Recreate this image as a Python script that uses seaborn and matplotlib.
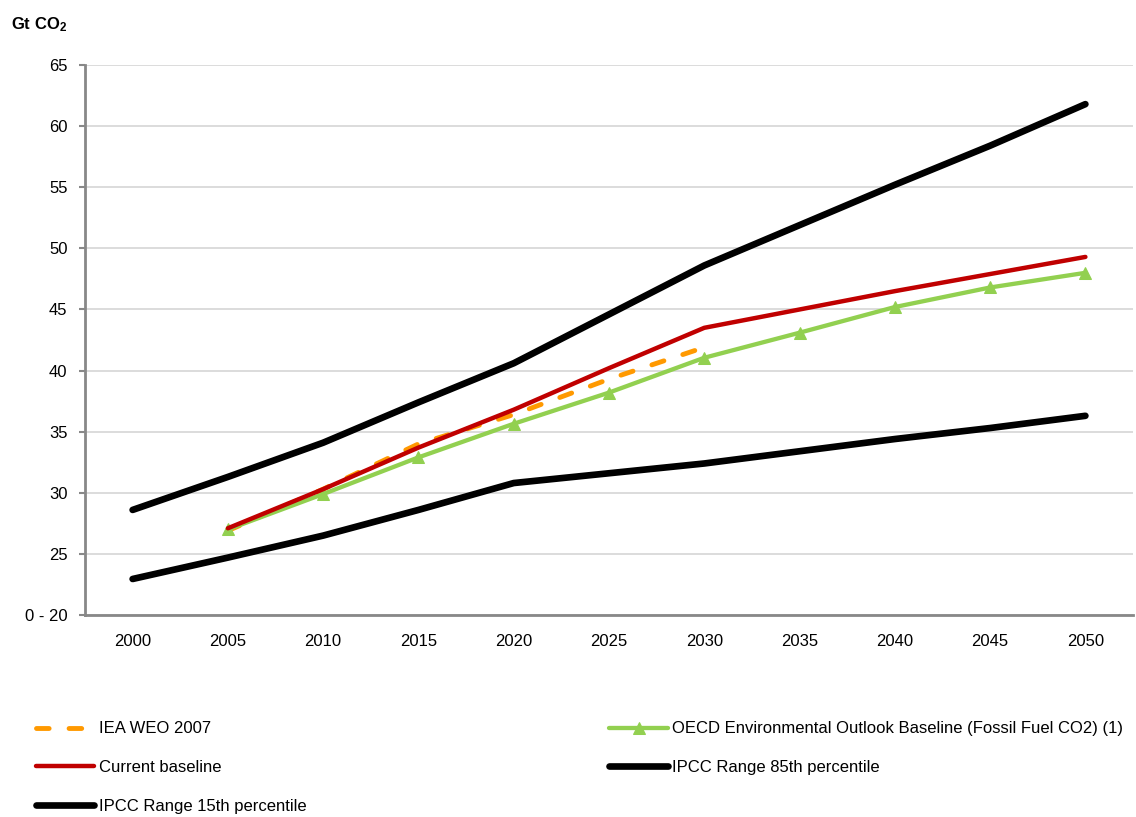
import numpy as np
import pandas as pd
import matplotlib
matplotlib.use("Agg")
import matplotlib.pyplot as plt
from matplotlib.ticker import FixedLocator
import seaborn as sns

# values (Gt CO2)
years = [2000, 2005, 2010, 2015, 2020, 2025, 2030, 2035, 2040, 2045, 2050]
iea_years = [2005, 2010, 2015, 2020, 2025, 2030]
iea_weo = [26.9, 30.3, 34.0, 36.4, 39.3, 41.9]
oecd_years = [2005, 2010, 2015, 2020, 2025, 2030, 2035, 2040, 2045, 2050]
oecd_baseline = [27.0, 29.9, 32.9, 35.65, 38.2, 41.05, 43.1, 45.2, 46.8, 48.0]
current_baseline = [27.1, 30.3, 33.7, 36.8, 40.2, 43.5, 45.0, 46.5, 47.9, 49.3]
ipcc_85 = [28.6, 31.3, 34.1, 37.4, 40.6, 44.6, 48.6, 51.9, 55.2, 58.4, 61.8]
ipcc_15 = [22.95, 24.7, 26.5, 28.6, 30.8, 31.6, 32.4, 33.4, 34.4, 35.3, 36.3]
y_ticks = [20, 25, 30, 35, 40, 45, 50, 55, 60, 65]
y_tick_labels = ["0 - 20", "25", "30", "35", "40", "45", "50", "55", "60", "65"]

sns.set_style("white")
plt.rcParams["font.family"] = ["Liberation Sans", "DejaVu Sans"]
plt.rcParams["mathtext.fontset"] = "custom"
plt.rcParams["mathtext.rm"] = "Liberation Sans"
plt.rcParams["mathtext.bf"] = "Liberation Sans:bold"
plt.rcParams["text.color"] = "black"
plt.rcParams["xtick.labelcolor"] = "black"
plt.rcParams["ytick.labelcolor"] = "black"

fig = plt.figure(figsize=(11.36, 8.17), dpi=100)
ax = fig.add_axes([0.0748, 0.2472, 0.9226, 0.6732])

df_iea = pd.DataFrame({"year": iea_years, "value": iea_weo})
df_oecd = pd.DataFrame({"year": oecd_years, "value": oecd_baseline})
df_cur = pd.DataFrame({"year": oecd_years, "value": current_baseline})
df_85 = pd.DataFrame({"year": years, "value": ipcc_85})
df_15 = pd.DataFrame({"year": years, "value": ipcc_15})

sns.lineplot(data=df_85, x="year", y="value", ax=ax, color="black", lw=4.8,
             solid_capstyle="round", label="IPCC Range 85th percentile")
sns.lineplot(data=df_15, x="year", y="value", ax=ax, color="black", lw=4.8,
             solid_capstyle="round", label="IPCC Range 15th percentile")
sns.lineplot(data=df_iea, x="year", y="value", ax=ax, color="#FF9900", lw=3.5,
             dashes=False, label="IEA WEO 2007")
ax.lines[-1].set_dashes((2.6, 4.1))
ax.lines[-1].set_dash_capstyle("round")
sns.lineplot(data=df_oecd, x="year", y="value", ax=ax, color="#92D050", lw=3.1,
             marker="^", markersize=9, markeredgecolor="#92D050",
             label="OECD Environmental Outlook Baseline (Fossil Fuel CO2) (1)")
sns.lineplot(data=df_cur, x="year", y="value", ax=ax, color="#C00000", lw=3.2,
             solid_capstyle="round", label="Current baseline")

ax.set_xlim(years[0] - 2.5, years[-1] + 2.5)
ax.set_ylim(y_ticks[0], y_ticks[-1])
ax.set_xticks(years)
ax.set_xticklabels([str(y) for y in years], fontsize=12)
ax.xaxis.set_minor_locator(FixedLocator(list(np.arange(years[0] - 2.5, years[-1] + 3, 5))))
ax.tick_params(axis="x", which="major", length=0, pad=14)
ax.tick_params(axis="x", which="minor", length=4, width=1.5, color="#888888", direction="out")
ax.set_yticks(y_ticks)
ax.set_yticklabels(y_tick_labels, fontsize=12)
ax.tick_params(axis="y", length=4.5, width=1.5, color="#888888", direction="out", left=True, pad=8)
ax.yaxis.grid(True, color="#D9D9D9", lw=1.3)
ax.set_axisbelow(True)
ax.set_xlabel("")
ax.set_ylabel("")
for side in ["top", "right"]:
    ax.spines[side].set_visible(False)
for side in ["left", "bottom"]:
    ax.spines[side].set_color("#888888")
    ax.spines[side].set_linewidth(2)

fig.text(0.010, 0.9694, r"$\mathbf{Gt\ CO_2}$", fontsize=12, ha="left", va="center")

handles, labels = ax.get_legend_handles_labels()
order = ["IEA WEO 2007", "Current baseline", "IPCC Range 15th percentile",
         "OECD Environmental Outlook Baseline (Fossil Fuel CO2) (1)", "IPCC Range 85th percentile"]
lookup = dict(zip(labels, handles))
leg = ax.legend([lookup[k] for k in order], order, ncol=2, loc="upper left",
                bbox_to_anchor=(0.0317, 0.117), bbox_transform=fig.transFigure,
                frameon=False, fontsize=12, handlelength=3.5, handletextpad=0.25,
                labelspacing=1.42, columnspacing=18.2, borderpad=0, borderaxespad=0)
for t in leg.get_texts():
    t.set_color("black")

fig.savefig("out.png", dpi=100)
